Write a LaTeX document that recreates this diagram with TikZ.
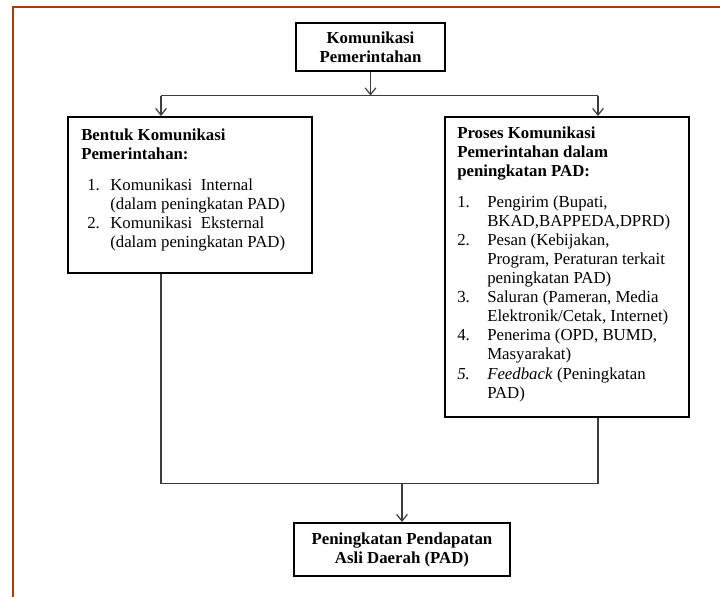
\documentclass[tikz,border=0pt]{standalone}
\usepackage{fontspec}
\setmainfont{Liberation Serif}
\usetikzlibrary{arrows.meta}
\definecolor{rust}{RGB}{168,60,8}
\definecolor{connc}{RGB}{60,60,60}
\begin{document}
\begin{tikzpicture}[x=0.75pt,y=-0.75pt,
  box/.style={draw=black, line width=1.5pt, inner sep=0pt, fill=white},
  txt/.style={inner sep=0pt, anchor=north west, font=\fontsize{12.6}{14.3}\selectfont},
  ctxt/.style={align=center, font=\fontsize{12.6}{14.3}\selectfont\bfseries},
  conn/.style={draw=connc, line width=0.9pt},
  arr/.style={conn, -{Straight Barb[length=5pt,width=8pt]}}
]
\useasboundingbox (0,0) rectangle (720,596);
\fill[white] (0,0) rectangle (720,596);
\begin{scope}
\clip (0,0) rectangle (720,596);
\draw[rust, line width=1.6pt] (12.8,600) -- (12.8,6.8) -- (725,6.8);
\end{scope}

% boxes
\node[box, minimum width=111.75pt, minimum height=36pt, ctxt] (top) at (370.5,47) {Komunikasi\\Pemerintahan};
\node[box, minimum width=183pt, minimum height=117pt] (lbox) at (190,195) {};
\node[box, minimum width=183pt, minimum height=225pt] (rbox) at (567,267) {};
\node[box, minimum width=162pt, minimum height=39.75pt, ctxt] (bot) at (402,549.5) {Peningkatan Pendapatan\\Asli Daerah (PAD)};

% box texts
\node[txt] (ltext) at (81,126.6) {\begin{tabular}{@{\hspace{4.5pt}}p{17.25pt}@{}l@{}}
\multicolumn{2}{@{}l@{}}{\bfseries Bentuk Komunikasi}\\
\multicolumn{2}{@{}l@{}}{\bfseries Pemerintahan:}\\[9pt]
1. & Komunikasi\ \ Internal\\
   & (dalam peningkatan PAD)\\
2. & Komunikasi\ \ Eksternal\\
   & (dalam peningkatan PAD)
\end{tabular}};

\node[txt] (rtext) at (457,124.6) {\begin{tabular}{@{}p{22.5pt}@{}l@{}}
\multicolumn{2}{@{}l@{}}{\bfseries Proses Komunikasi}\\
\multicolumn{2}{@{}l@{}}{\bfseries Pemerintahan dalam}\\
\multicolumn{2}{@{}l@{}}{\bfseries peningkatan PAD:}\\[9pt]
1. & Pengirim (Bupati,\\
   & BKAD,BAPPEDA,DPRD)\\
2. & Pesan (Kebijakan,\\
   & Program, Peraturan terkait\\
   & peningkatan PAD)\\
3. & Saluran (Pameran, Media\\
   & Elektronik/Cetak, Internet)\\
4. & Penerima (OPD, BUMD,\\
   & Masyarakat)\\
\textit{5.} & \textit{Feedback} (Peningkatan\\
   & PAD)
\end{tabular}};

% connectors
\coordinate (jt) at (370.5,95.5);
\coordinate (jl) at (161,95.5);
\coordinate (jr) at (598,95.5);
\draw[arr] (top.south) -- (jt);
\draw[conn] (jl) -- (jr);
\draw[arr] (jl) -- (jl |- lbox.north);
\draw[arr] (jr) -- (jr |- rbox.north);

\coordinate (bl) at (161,483.5);
\coordinate (br) at (598,483.5);
\coordinate (bt) at (402,483.5);
\draw[conn] (bl |- lbox.south) -- (bl) -- (br) -- (br |- rbox.south);
\draw[arr] (bt) -- (bot.north);
\end{tikzpicture}
\end{document}
